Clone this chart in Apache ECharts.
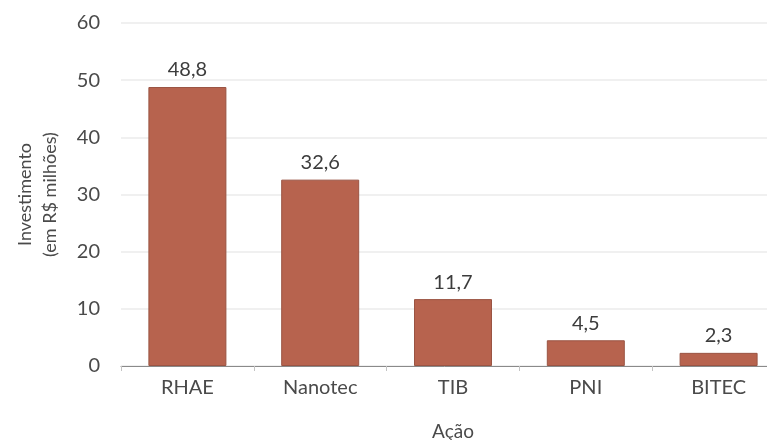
<!DOCTYPE html>
<html>
<head>
<meta charset="utf-8">
<script src="https://cdn.jsdelivr.net/npm/echarts@6/dist/echarts.min.js"></script>
<style>
  html, body { margin: 0; padding: 0; background: #ffffff; }
  #chart { width: 767px; height: 440px; }
</style>
</head>
<body>
<div id="chart"></div>
<script>
// Investimento por ação (em R$ milhões)
const categories = ['RHAE', 'Nanotec', 'TIB', 'PNI', 'BITEC'];
const investimento = [48.8, 32.6, 11.7, 4.5, 2.3];
const yTicks = [0, 10, 20, 30, 40, 50, 60];

const FONT = 'Lato, "Noto Sans", sans-serif';
const TEXT = '#4a4a4a';

const chart = echarts.init(document.getElementById('chart'), null, { renderer: 'canvas' });

chart.setOption({
  backgroundColor: '#ffffff',
  animation: false,
  // the plot runs a little past the right edge of the canvas
  grid: { left: 121, top: 23, width: 664, height: 343, containLabel: false, outerBoundsMode: 'none' },
  xAxis: {
    type: 'category',
    data: categories,
    name: 'Ação',
    nameLocation: 'middle',
    nameGap: 56,
    nameTextStyle: { fontFamily: FONT, fontSize: 19, color: TEXT },
    axisLine: { lineStyle: { color: '#8a8a8a', width: 1 } },
    axisTick: { show: true, length: 5, lineStyle: { color: '#c4c4c4' } },
    axisLabel: { fontFamily: FONT, fontSize: 20, color: TEXT, margin: 12 }
  },
  yAxis: {
    type: 'value',
    min: yTicks[0],
    max: yTicks[yTicks.length - 1],
    interval: 10,
    name: 'Investimento\n(em R$ milhões)',
    nameLocation: 'middle',
    nameRotate: 90,
    nameGap: 58,
    nameTextStyle: { fontFamily: FONT, fontSize: 18, color: TEXT, lineHeight: 25 },
    axisLine: { show: false },
    axisTick: { show: false },
    axisLabel: { fontFamily: FONT, fontSize: 20, color: TEXT, margin: 21 },
    splitLine: { lineStyle: { color: '#f0f0f0', width: 2 } }
  },
  series: [{
    type: 'bar',
    data: investimento,
    barWidth: 78,
    itemStyle: { color: '#b7634e', borderColor: '#9a5443', borderWidth: 1 },
    label: {
      show: true,
      position: 'top',
      distance: 7,
      fontFamily: FONT,
      fontSize: 20,
      color: '#3c3c3c',
      formatter: p => p.value.toFixed(1).replace('.', ',')
    }
  }]
});
</script>
</body>
</html>
